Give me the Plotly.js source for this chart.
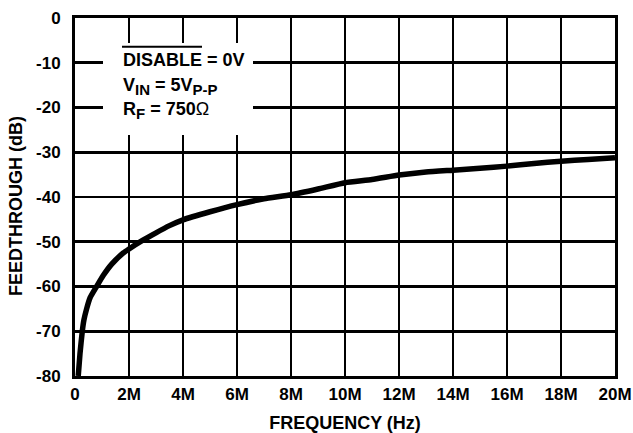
<!DOCTYPE html>
<html>
<head>
<meta charset="utf-8">
<script src="https://cdn.plot.ly/plotly-3.0.1.min.js"></script>
<style>html,body{margin:0;padding:0;background:#fff;}</style>
</head>
<body>
<div id="chart" style="width:633px;height:433px;"></div>
<script>
// Frequency in MHz
var freqMHz = [0.12, 0.185, 0.27, 0.33, 0.43, 0.56, 0.8, 1.05, 1.36, 1.79, 2.0, 2.5, 3.0, 3.5, 4.0, 5.0, 6.0, 7.0, 8.0, 9.0, 10.0, 11.0, 12.0, 13.0, 14.0, 15.0, 16.0, 17.0, 18.0, 19.0, 20.0];
// Feedthrough in dB
var feedDB = [-80, -75, -70, -67.5, -65, -62.5, -60, -57.5, -55, -52.5, -51.6, -49.7, -48.0, -46.4, -45.1, -43.3, -41.7, -40.4, -39.5, -38.2, -36.8, -36.1, -35.1, -34.4, -34.0, -33.6, -33.1, -32.5, -32.0, -31.6, -31.2];

var xTickVals = [0, 2, 4, 6, 8, 10, 12, 14, 16, 18, 20];
var xTickText = ["0", "2M", "4M", "6M", "8M", "10M", "12M", "14M", "16M", "18M", "20M"];
var yTickVals = [0, -10, -20, -30, -40, -50, -60, -70, -80];
var yTickText = ["0", "-10", "-20", "-30", "-40", "-50", "-60", "-70", "-80"];

var FONT = "Liberation Sans, Arial, Helvetica, sans-serif";
var SUB = function (s) { return "<sub><span style=\"font-size:15px\">" + s + "</span></sub>"; };

var trace = {
  x: freqMHz,
  y: feedDB,
  type: "scatter",
  mode: "lines",
  line: {color: "#000", width: 5.5, shape: "spline", smoothing: 0.5},
  hoverinfo: "skip"
};

var axisCommon = {
  showgrid: true,
  gridcolor: "#000",
  gridwidth: 2.6,
  showline: true,
  linecolor: "#000",
  linewidth: 3,
  mirror: true,
  zeroline: false,
  ticks: "",
  tickfont: {family: FONT, size: 17, color: "#000", weight: 700}
};

var layout = {
  width: 633,
  height: 433,
  margin: {l: 75, r: 18, t: 18, b: 57, pad: 0},
  paper_bgcolor: "#fff",
  plot_bgcolor: "#fff",
  showlegend: false,
  xaxis: Object.assign({}, axisCommon, {
    range: [0, 20],
    tickmode: "array",
    tickvals: xTickVals,
    ticktext: xTickText,
    ticklabelstandoff: 1,
    title: {text: "FREQUENCY (Hz)", font: {family: FONT, size: 18, color: "#000", weight: 700}, standoff: 16}
  }),
  yaxis: Object.assign({}, axisCommon, {
    range: [-80, 0],
    tickmode: "array",
    tickvals: yTickVals,
    ticktext: yTickText,
    ticklabelstandoff: 8
  }),
  shapes: [
    {type: "rect", xref: "paper", yref: "paper",
     x0: (103 - 75) / 540, x1: (253 - 75) / 540,
     y0: 1 - (135 - 18) / 358, y1: 1 - (43 - 18) / 358,
     fillcolor: "#fff", line: {width: 0}, layer: "above"},
    {type: "line", xref: "paper", yref: "paper",
     x0: (122 - 75) / 540, x1: (202 - 75) / 540,
     y0: 1 - (46.7 - 18) / 358, y1: 1 - (46.7 - 18) / 358,
     line: {color: "#000", width: 2}, layer: "above"}
  ],
  annotations: [
    {xref: "paper", yref: "paper", x: (16 - 75) / 540, y: 1 - (206 - 18) / 358,
     xanchor: "center", yanchor: "middle", showarrow: false, textangle: -90,
     text: "FEEDTHROUGH (dB)", font: {family: FONT, size: 18, color: "#000", weight: 700}},
    {xref: "paper", yref: "paper", x: (121 - 75) / 540, y: 1 - (60 - 18) / 358,
     xanchor: "left", yanchor: "middle", showarrow: false,
     text: "DISABLE = 0V", font: {family: FONT, size: 18, color: "#000", weight: 700}},
    {xref: "paper", yref: "paper", x: (121 - 75) / 540, y: 1 - (86 - 18) / 358,
     xanchor: "left", yanchor: "middle", showarrow: false,
     text: "V" + SUB("IN") + " = 5V" + SUB("P-P"), font: {family: FONT, size: 18, color: "#000", weight: 700}},
    {xref: "paper", yref: "paper", x: (121 - 75) / 540, y: 1 - (111 - 18) / 358,
     xanchor: "left", yanchor: "middle", showarrow: false,
     text: "R" + SUB("F") + " = 750<span style=\"font-weight:normal\">\u03A9</span>", font: {family: FONT, size: 18, color: "#000", weight: 700}}
  ]
};

Plotly.newPlot("chart", [trace], layout, {staticPlot: true, displayModeBar: false});
</script>
</body>
</html>
